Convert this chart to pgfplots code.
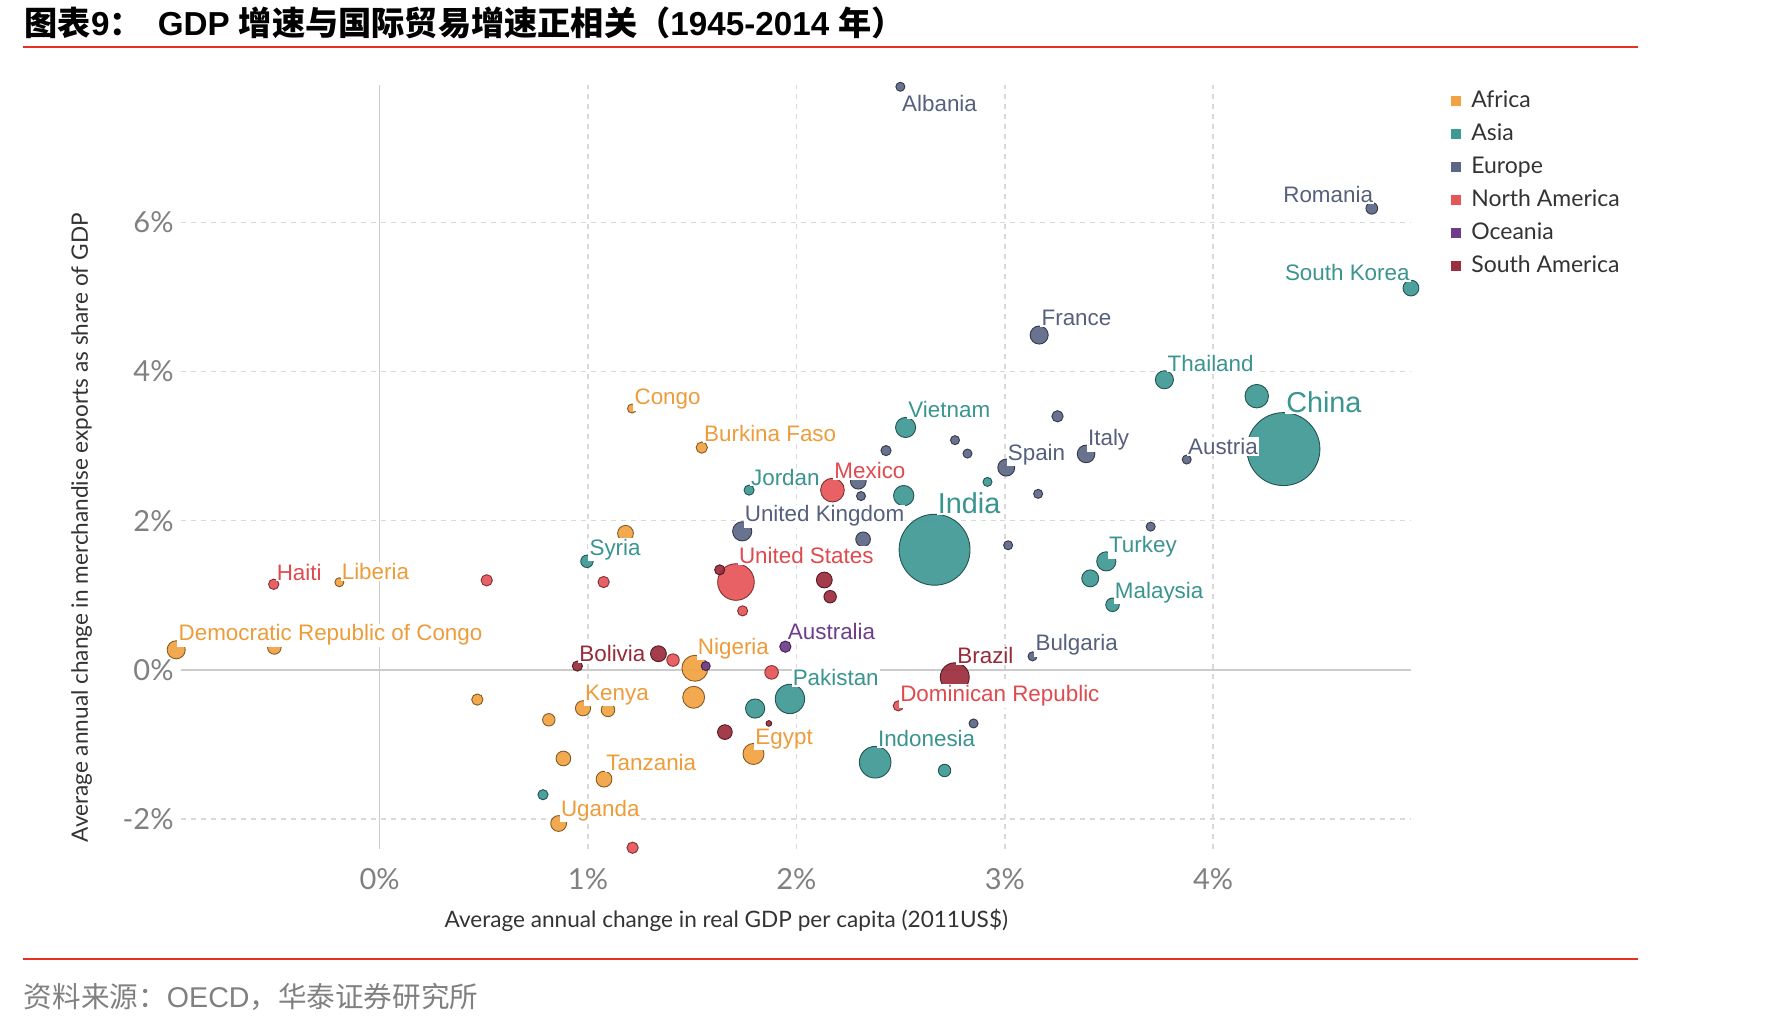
\documentclass[border=0pt]{standalone}
\usepackage{pgfplots}
\pgfplotsset{compat=1.18}
\usepackage{pgfplotstable}
\usepackage{fontspec}
\setmainfont{Liberation Sans}
\newfontfamily\lato{Lato}
\newfontfamily\cjk{Noto Sans CJK SC}
\newfontfamily\arl{Liberation Sans}

\definecolor{afr}{HTML}{F2A240}
\definecolor{asi}{HTML}{3E9894}
\definecolor{eur}{HTML}{5C6785}
\definecolor{nam}{HTML}{E65558}
\definecolor{oce}{HTML}{6E3C8C}
\definecolor{sam}{HTML}{9B2D3C}
\definecolor{afrT}{HTML}{EE9C3A}
\definecolor{asiT}{HTML}{3A948F}
\definecolor{eurT}{HTML}{56607C}
\definecolor{namT}{HTML}{E04A4E}
\definecolor{oceT}{HTML}{6E3C8C}
\definecolor{samT}{HTML}{962A38}
\definecolor{hred}{HTML}{E3321F}
\definecolor{gridc}{HTML}{D9D9D9}

\pgfplotstableread[row sep=\\]{
x y r\\
-0.976 0.268 8\\
-0.505 0.30 6\\
-0.193 1.174 4\\
1.211 3.504 4\\
1.546 2.98 5\\
1.18 1.83 7\\
1.513 0.02 11.5\\
1.507 -0.369 9.7\\
0.976 -0.516 6.7\\
1.096 -0.538 6\\
0.469 -0.40 5\\
0.812 -0.671 5.5\\
0.882 -1.19 6.5\\
1.077 -1.467 7\\
0.859 -2.062 7\\
1.794 -1.129 9.3\\
}\afrTable
\pgfplotstableread[row sep=\\]{
x y r\\
4.949 5.12 7\\
3.766 3.89 8\\
4.209 3.67 10.4\\
4.337 2.96 32.3\\
2.524 3.25 8.9\\
1.773 2.41 4.5\\
2.515 2.336 9\\
2.663 1.61 31.4\\
2.917 2.52 4\\
0.995 1.455 5.5\\
3.487 1.454 8.5\\
3.41 1.226 7.5\\
3.517 0.872 6\\
1.969 -0.391 13\\
1.802 -0.52 8.5\\
2.378 -1.24 14\\
2.711 -1.351 5.5\\
0.784 -1.676 4.5\\
}\asiTable
\pgfplotstableread[row sep=\\]{
x y r\\
2.499 7.82 4\\
4.761 6.19 5.2\\
3.165 4.49 8\\
3.253 3.40 5\\
3.39 2.895 7.8\\
3.007 2.712 7.5\\
3.873 2.82 4\\
2.761 3.08 4\\
2.821 2.90 4\\
2.43 2.94 4.5\\
2.297 2.53 7\\
2.31 2.33 4\\
3.16 2.36 4\\
1.74 1.857 8.5\\
2.32 1.75 6.5\\
3.016 1.67 4\\
3.70 1.92 4\\
3.133 0.18 4\\
2.85 -0.72 4\\
}\eurTable
\pgfplotstableread[row sep=\\]{
x y r\\
-0.508 1.147 4.6\\
0.514 1.20 5\\
1.075 1.177 5\\
1.71 1.177 16.2\\
1.742 0.79 4.5\\
2.173 2.41 10.5\\
1.408 0.13 5.5\\
1.881 -0.035 6\\
2.489 -0.484 4.5\\
1.214 -2.387 5\\
}\namTable
\pgfplotstableread[row sep=\\]{
x y r\\
1.947 0.31 5\\
1.565 0.05 4\\
0.446 0.357 2\\
1.137 -0.43 2.5\\
}\oceTable
\pgfplotstableread[row sep=\\]{
x y r\\
1.338 0.215 7\\
0.949 0.05 4.5\\
1.632 1.34 4.5\\
2.134 1.204 7\\
2.162 0.98 5.5\\
2.76 -0.10 12.8\\
1.657 -0.836 6.5\\
1.868 -0.72 2.5\\
}\samTable

\pgfplotsset{
  bub/.style={
    scatter, only marks, mark=*,
    scatter/use mapped color={draw=#1!55!black, fill=#1},
    visualization depends on={\thisrow{r}*0.5648 \as \rr},
    scatter/@pre marker code/.append style={/tikz/mark size=\rr},
    mark options={line width=0.45pt, fill opacity=0.92},
    forget plot
  },
}
\tikzset{
  lbl/.style={fill=white, inner xsep=0.6pt, inner ysep=0.6pt, anchor=base west, yshift=-1.4pt,
    font=\fontsize{11.2}{13}\selectfont},
  lblb/.style={lbl, font=\fontsize{14.4}{16}\selectfont},
}

\begin{document}
\begin{tikzpicture}
\path[use as bounding box] (0,0) rectangle (885.6pt,514pt);

% title
\node[anchor=west, inner sep=0pt, font=\fontsize{16.6}{18}\selectfont\bfseries] at (12.2pt,502.7pt)
  {\cjk 图表\arl 9\cjk ：\hspace{0.45em}\arl GDP \cjk 增速与国际贸易增速正相关（\arl 1945-2014 \cjk 年）};
\draw[hred, line width=1.1pt] (11.3pt,490.3pt) -- (819pt,490.3pt);
\draw[hred, line width=1.1pt] (11.3pt,34.5pt) -- (819pt,34.5pt);
\node[anchor=west, inner sep=0pt, text=black!50, font=\fontsize{14.3}{16}\selectfont] at (11.8pt,15.5pt)
  {\cjk 资料来源：\arl OECD\cjk ，华泰证券研究所};

\begin{axis}[
  at={(90.3pt,89.6pt)}, anchor=south west,
  x=104.21pt, y=37.28pt,
  xmin=-0.955, xmax=4.95, ymin=-2.4, ymax=7.85,
  clip=false,
  axis line style={draw=none},
  tick style={draw=none},
  xtick={0,1,2,3,4}, xticklabels={0\%,1\%,2\%,3\%,4\%},
  ytick={-2,0,2,4,6}, yticklabels={-2\%,0\%,2\%,4\%,6\%},
  ticklabel style={font=\lato\fontsize{14.5}{16}\selectfont, text=black!50},
  xticklabel style={yshift=-6.4pt},
  yticklabel style={xshift=0pt},
  grid=major,
  major grid style={gridc, line width=0.7pt, dash pattern=on 2.5pt off 2.5pt},
  xlabel={Average annual change in real GDP per capita (2011US\$)},
  ylabel={Average annual change in merchandise exports as share of GDP},
  every axis x label/.style={at={(axis description cs:0.4435,-0.094)}, anchor=center,
    font=\lato\fontsize{11.3}{13}\selectfont, text=black!80},
  every axis y label/.style={at={(axis description cs:-0.0805,0.42)}, rotate=90, anchor=center,
    font=\lato\fontsize{11.3}{13}\selectfont, text=black!80},
  legend style={at={(1.032,0.993)}, anchor=north west, draw=none, fill=none,
    font=\lato\fontsize{11.5}{13}\selectfont, text=black!80, row sep=5.5pt, inner sep=0pt,
    nodes={inner sep=0pt, text height=8.6pt, text depth=2.4pt},
    /tikz/every odd column/.append style={column sep=5pt}},
  legend cell align=left,
  legend image code/.code={\fill[#1] (0pt,-2.6pt) rectangle (5.2pt,2.6pt);},
]
\addlegendimage{fill=afr, draw=none}\addlegendentry{Africa}
\addlegendimage{fill=asi, draw=none}\addlegendentry{Asia}
\addlegendimage{fill=eur, draw=none}\addlegendentry{Europe}
\addlegendimage{fill=nam, draw=none}\addlegendentry{North America}
\addlegendimage{fill=oce, draw=none}\addlegendentry{Oceania}
\addlegendimage{fill=sam, draw=none}\addlegendentry{South America}

\draw[gray!40, line width=0.8pt] (axis cs:0,-2.4) -- (axis cs:0,7.85);
\draw[gray!40, line width=0.8pt] (axis cs:-0.955,0) -- (axis cs:4.95,0);

\addplot[bub=afr] table[x=x,y=y] {\afrTable};
\addplot[bub=asi] table[x=x,y=y] {\asiTable};
\addplot[bub=eur] table[x=x,y=y] {\eurTable};
\addplot[bub=nam] table[x=x,y=y] {\namTable};
\addplot[bub=oce] table[x=x,y=y] {\oceTable};
\addplot[bub=sam] table[x=x,y=y] {\samTable};

% label anchor coordinates
\coordinate (Lcongo) at (axis cs:1.216,3.593);
\coordinate (Lburk) at (axis cs:1.55,3.10);
\coordinate (Llib) at (axis cs:-0.189,1.25);
\coordinate (Ldrc) at (axis cs:-0.972,0.424);
\coordinate (Lnig) at (axis cs:1.52,0.246);
\coordinate (Lken) at (axis cs:0.979,-0.369);
\coordinate (Legy) at (axis cs:1.796,-0.96);
\coordinate (Ltan) at (axis cs:1.081,-1.311);
\coordinate (Luga) at (axis cs:0.863,-1.924);
\coordinate (Lsk) at (axis cs:4.337,5.262);
\coordinate (Ltha) at (axis cs:3.774,4.045);
\coordinate (Lchi) at (axis cs:4.343,3.485);
\coordinate (Lvie) at (axis cs:2.53,3.42);
\coordinate (Ljor) at (axis cs:1.775,2.515);
\coordinate (Lind) at (axis cs:2.671,2.134);
\coordinate (Lsyr) at (axis cs:1.0,1.575);
\coordinate (Ltur) at (axis cs:3.493,1.606);
\coordinate (Lmal) at (axis cs:3.521,0.998);
\coordinate (Lpak) at (axis cs:1.975,-0.178);
\coordinate (Lidn) at (axis cs:2.384,-0.991);
\coordinate (Lalb) at (axis cs:2.50,7.52);
\coordinate (Lrom) at (axis cs:4.329,6.304);
\coordinate (Lfra) at (axis cs:3.169,4.649);
\coordinate (Lspa) at (axis cs:3.007,2.85);
\coordinate (Lita) at (axis cs:3.392,3.04);
\coordinate (Laut) at (axis cs:3.872,2.92);
\coordinate (Luk) at (axis cs:1.745,2.02);
\coordinate (Lbul) at (axis cs:3.14,0.29);
\coordinate (Lhai) at (axis cs:-0.501,1.241);
\coordinate (Lmex) at (axis cs:2.175,2.60);
\coordinate (Lus) at (axis cs:1.717,1.463);
\coordinate (Ldom) at (axis cs:2.491,-0.391);
\coordinate (Laus) at (axis cs:1.952,0.443);
\coordinate (Lbol) at (axis cs:0.951,0.148);
\coordinate (Lbra) at (axis cs:2.765,0.12);
\end{axis}

% labels drawn above the markers
\node[lbl, text=afrT] at (Lcongo) {Congo};
\node[lbl, text=afrT] at (Lburk) {Burkina Faso};
\node[lbl, text=afrT] at (Llib) {Liberia};
\node[lbl, text=afrT] at (Ldrc) {Democratic Republic of Congo};
\node[lbl, text=afrT] at (Lnig) {Nigeria};
\node[lbl, text=afrT] at (Lken) {Kenya};
\node[lbl, text=afrT] at (Legy) {Egypt};
\node[lbl, text=afrT] at (Ltan) {Tanzania};
\node[lbl, text=afrT] at (Luga) {Uganda};
\node[lbl, text=asiT] at (Lsk) {South Korea};
\node[lbl, text=asiT] at (Ltha) {Thailand};
\node[lblb, text=asiT] at (Lchi) {China};
\node[lbl, text=asiT] at (Lvie) {Vietnam};
\node[lbl, text=asiT] at (Ljor) {Jordan};
\node[lblb, text=asiT] at (Lind) {India};
\node[lbl, text=asiT] at (Lsyr) {Syria};
\node[lbl, text=asiT] at (Ltur) {Turkey};
\node[lbl, text=asiT] at (Lmal) {Malaysia};
\node[lbl, text=asiT] at (Lpak) {Pakistan};
\node[lbl, text=asiT] at (Lidn) {Indonesia};
\node[lbl, text=eurT] at (Lalb) {Albania};
\node[lbl, text=eurT] at (Lrom) {Romania};
\node[lbl, text=eurT] at (Lfra) {France};
\node[lbl, text=eurT] at (Lspa) {Spain};
\node[lbl, text=eurT] at (Lita) {Italy};
\node[lbl, text=eurT] at (Laut) {Austria};
\node[lbl, text=eurT] at (Luk) {United Kingdom};
\node[lbl, text=eurT] at (Lbul) {Bulgaria};
\node[lbl, text=namT] at (Lhai) {Haiti};
\node[lbl, text=namT] at (Lmex) {Mexico};
\node[lbl, text=namT] at (Lus) {United States};
\node[lbl, text=namT] at (Ldom) {Dominican Republic};
\node[lbl, text=oceT] at (Laus) {Australia};
\node[lbl, text=samT] at (Lbol) {Bolivia};
\node[lbl, text=samT] at (Lbra) {Brazil};
\end{tikzpicture}
\end{document}
